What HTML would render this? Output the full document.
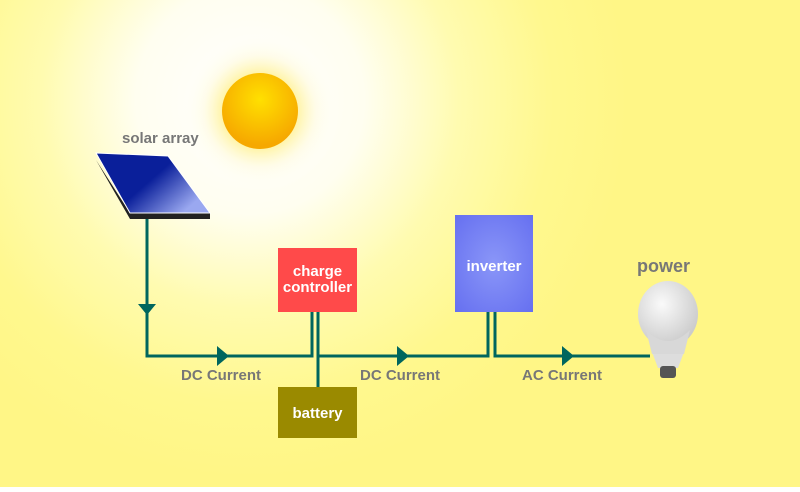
<!DOCTYPE html>
<html><head><style>
body{margin:0;width:800px;height:487px;overflow:hidden;font-family:"Liberation Sans",sans-serif}
</style></head><body>
<svg width="800" height="487" xmlns="http://www.w3.org/2000/svg">
<defs>
<radialGradient id="glow" cx="250" cy="100" r="380" gradientUnits="userSpaceOnUse">
<stop offset="0" stop-color="#fff"/><stop offset="0.3" stop-color="#fffef0"/><stop offset="0.55" stop-color="#fffbb0"/><stop offset="0.8" stop-color="#fff88e"/><stop offset="1" stop-color="#fff686"/></radialGradient>
<radialGradient id="halo" cx="260" cy="111" r="80" gradientUnits="userSpaceOnUse"><stop offset="0.45" stop-color="#fff3a0"/><stop offset="0.7" stop-color="#fffbe0" stop-opacity="0.6"/><stop offset="1" stop-color="#fff" stop-opacity="0"/></radialGradient>
<radialGradient id="sun" cx="0.5" cy="0.35" r="0.6"><stop offset="0" stop-color="#ffe000"/><stop offset="1" stop-color="#f6a800"/></radialGradient>
<linearGradient id="pan" x1="0" y1="0" x2="1" y2="0.6"><stop offset="0.55" stop-color="#0a1f9a"/><stop offset="1" stop-color="#9aa8f0"/></linearGradient>
<radialGradient id="inv" cx="0.5" cy="0.5" r="0.7"><stop offset="0" stop-color="#8a96f8"/><stop offset="1" stop-color="#6670f0"/></radialGradient>
<radialGradient id="bulb" cx="0.4" cy="0.35" r="0.7"><stop offset="0" stop-color="#fafafa"/><stop offset="1" stop-color="#c8c8c8"/></radialGradient>
</defs>
<rect width="800" height="487" fill="url(#glow)"/>
<circle cx="260" cy="111" r="80" fill="url(#halo)"/>
<circle cx="260" cy="111" r="38" fill="url(#sun)"/>
<polygon points="96,160 130,219 210,219 210,213 130,213" fill="#222"/>
<polygon points="96,153 168,156 210,213 130,213" fill="url(#pan)" stroke="#fff" stroke-width="1"/>
<text x="122" y="143" font-size="15" font-weight="bold" fill="#777">solar array</text>
<g stroke="#00665e" stroke-width="3" fill="none">
<polyline points="147,219 147,356 312,356 312,312"/>
<polyline points="318,312 318,387"/>
<polyline points="319,356 488,356 488,312"/>
<polyline points="495,312 495,356 650,356"/>
</g>
<g fill="#00665e">
<polygon points="138,304 156,304 147,315"/>
<polygon points="217,346 229,356 217,366"/>
<polygon points="397,346 409,356 397,366"/>
<polygon points="562,346 574,356 562,366"/>
</g>
<rect x="278" y="248" width="79" height="64" fill="#ff4a4a"/>
<text x="317.5" y="276" font-size="15" font-weight="bold" fill="#fff" text-anchor="middle">charge</text>
<text x="317.5" y="292" font-size="15" font-weight="bold" fill="#fff" text-anchor="middle">controller</text>
<rect x="278" y="387" width="79" height="51" fill="#9a8a00"/>
<text x="317.5" y="418" font-size="15" font-weight="bold" fill="#fff" text-anchor="middle">battery</text>
<rect x="455" y="215" width="78" height="97" fill="url(#inv)"/>
<text x="494" y="271" font-size="15" font-weight="bold" fill="#fff" text-anchor="middle">inverter</text>
<g font-size="15" font-weight="bold" fill="#777">
<text x="181" y="380">DC Current</text>
<text x="360" y="380">DC Current</text>
<text x="522" y="380">AC Current</text>
<text x="637" y="272" font-size="18">power</text>
</g>
<path d="M652,352 L684,352 L678,368 L658,368 Z" fill="#ddd"/>
<rect x="660" y="366" width="16" height="12" rx="3" fill="#555"/>
<ellipse cx="668" cy="314" rx="30" ry="33" fill="url(#bulb)"/>
<path d="M646,330 Q668,352 690,330 L684,354 L652,354 Z" fill="#d8d8d8"/>
</svg>
</body></html>
